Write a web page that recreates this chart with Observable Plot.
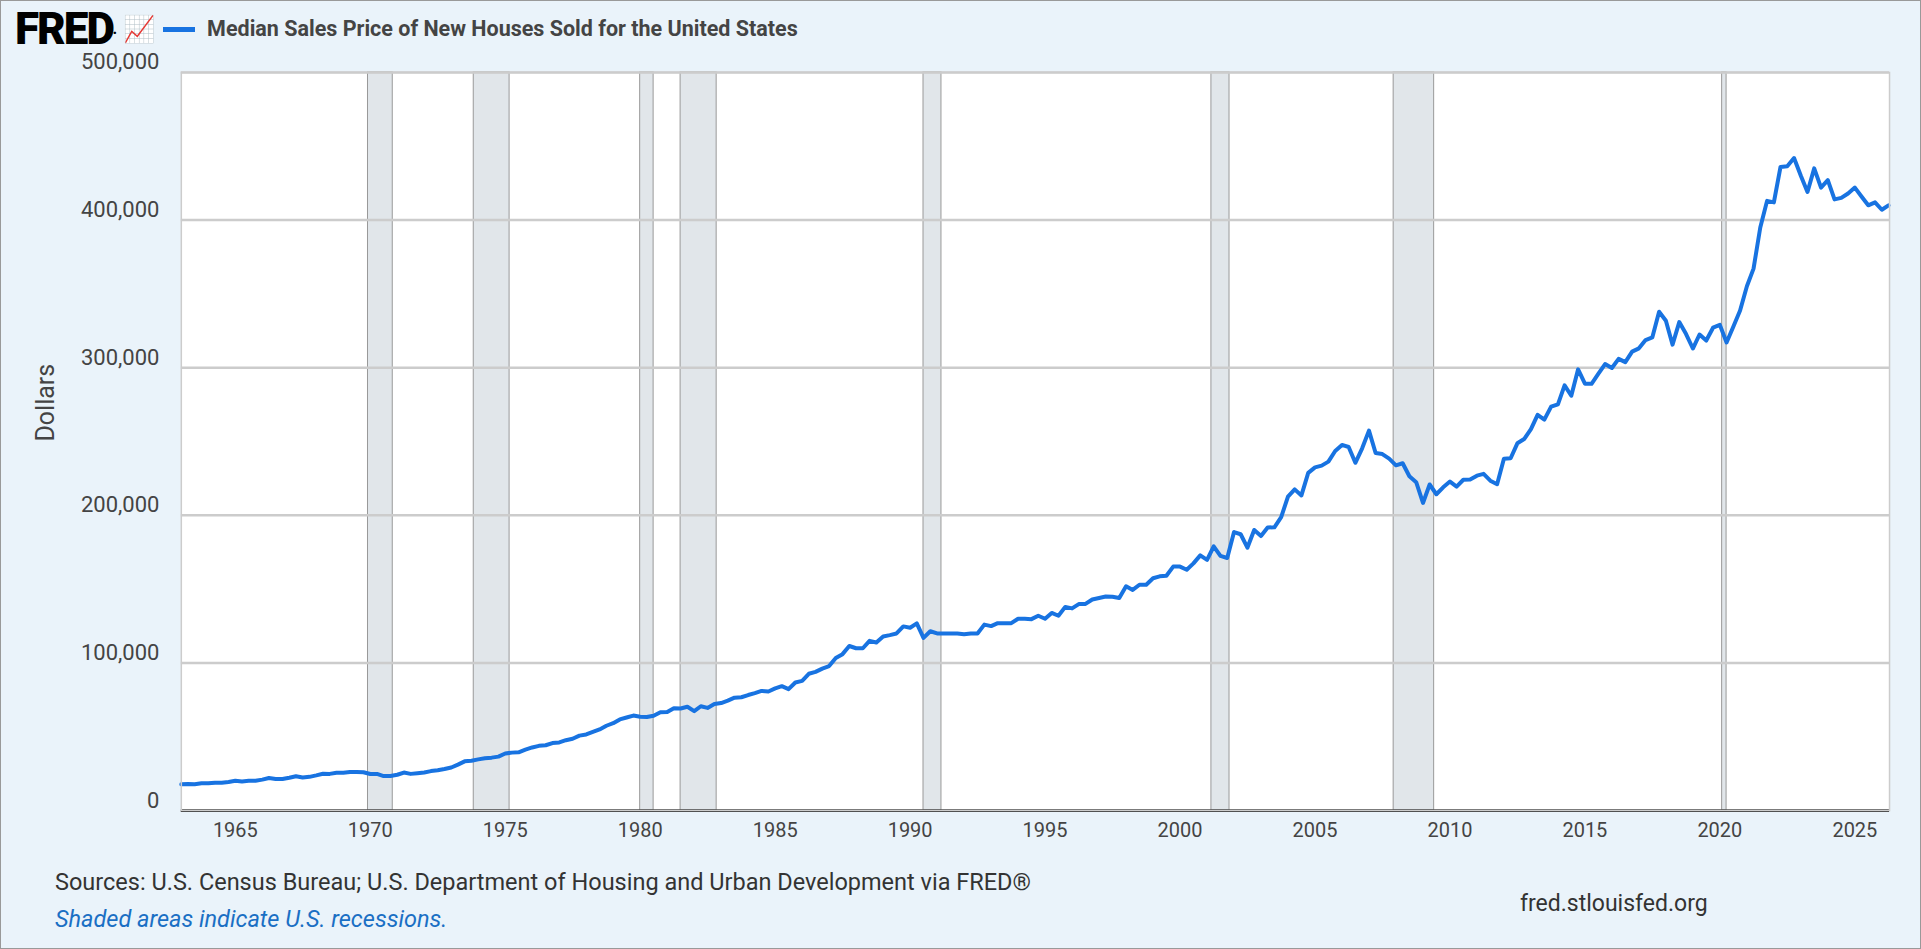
<!DOCTYPE html>
<html><head><meta charset="utf-8">
<script src="https://cdn.jsdelivr.net/npm/d3@7"></script>
<script src="https://cdn.jsdelivr.net/npm/@observablehq/plot@0.6"></script>
<style>
body{margin:0;background:#fff;font-family:Roboto,sans-serif;}
#wrap{position:relative;width:1919px;height:947px;background:#eaf3fa;border:1px solid #999;overflow:hidden}
#head{position:absolute;left:14px;top:8px;height:40px;display:flex;align-items:center;line-height:1}
#logo{font:900 44px Roboto;line-height:40px;letter-spacing:-2px;color:#000;display:flex;align-items:center}
#logo .ic{font-size:26px;line-height:30px;margin-left:8px}
#leg{font:700 21.5px Roboto;line-height:1;color:#444;margin-left:10px;display:flex;align-items:center}
#leg span{display:inline-block;width:32px;height:5px;background:#1873e1;margin-right:12px}
#chart{position:absolute;left:0;top:0}
#src{position:absolute;left:54px;top:867px;font-size:23.5px;color:#333}
#note{position:absolute;left:54px;top:904px;font-size:23.5px;color:#1a6fc4;font-style:italic}
#url{position:absolute;left:1519px;top:889px;font-size:23px;color:#333}
</style></head>
<body><div id="wrap">
<div id="chart"></div>
<div id="head"><div id="logo">FRED<span style="font-size:14px">.</span><span class="ic">📈</span></div>
<div id="leg"><span></span>Median Sales Price of New Houses Sold for the United States</div></div>
<div id="src">Sources: U.S. Census Bureau; U.S. Department of Housing and Urban Development via FRED®</div>
<div id="note">Shaded areas indicate U.S. recessions.</div>
<div id="url">fred.stlouisfed.org</div>
</div>
<script>
const startYear = 1963;
const prices = [
17800,18000,17900,18500, 18500,18900,18900,19400, 20200,19800,20200,20300,
21000,22100,21500,21400, 22300,23300,22500,22900, 23900,25000,24900,25600,
25600,26100,26200,26000, 24800,24900,23400,23500, 24300,25800,24900,25300,
25800,26800,27400,28200, 29200,31200,33400,33800, 34700,35500,35900,36600,
38700,39300,39500,41300, 42800,43900,44300,45800, 46200,47700,48700,50800,
51600,53300,55000,57500, 59200,61800,63100,64400, 63600,63400,64300,66700,
66800,69400,69200,70400, 67400,70700,69600,72200, 72900,74500,76500,76800,
78300,79600,81100,80700, 82800,84300,82300,86800, 87900,92700,94000,96200,
97900,103400,106000,111500, 110000,110000,115000,113900, 118000,118900,120000,124800,
123900,126800,117000,121500, 120000,119900,120000,120000, 119500,120000,120000,126000,
125000,127000,127000,127000, 130000,130000,129700,132000, 130000,133900,132000,138000,
137000,139900,140000,143000, 144000,145000,144900,144000, 152000,149500,153000,153000,
157400,158700,159100,165300, 165300,163200,167500,172900, 169800,179000,172500,171100,
188700,187200,178100,190100, 186000,191800,191900,198800, 212700,217600,213500,228800,
232500,233700,236400,243600, 247700,246300,235600,245400, 257400,242200,241500,238400,
233900,235300,226500,222500, 208400,220900,214300,219000, 222900,219500,224100,224300,
226900,228100,223500,221100, 238400,238700,248800,251700, 258400,268100,264800,273600,
275200,288000,281000,298900, 289200,289100,295800,302500, 299800,306000,303800,310900,
313100,318700,320500,337900, 331800,315600,330900,322800, 313000,322500,318400,327100,
329000,317100,327800,338700, 355200,367100,395000,413000, 412000,436000,436500,442000,
430000,419000,435000,422000, 427000,414000,415000,418000, 422000,416000,410000,412000,
407000,410000
];
const recStart = ["1969-12-01","1973-11-01","1980-01-01","1981-07-01","1990-07-01","2001-03-01","2007-12-01","2020-02-01"];
const recEnd   = ["1970-11-01","1975-03-01","1980-07-01","1982-11-01","1991-03-01","2001-11-01","2009-06-01","2020-04-01"];
const yTicks = [0,100000,200000,300000,400000,500000];

const data = prices.map((v,i)=>({date:new Date(startYear+Math.floor(i/4), (i%4)*3, 1), value:v}));
const rec = recStart.map((s,i)=>({x1:new Date(s), x2:new Date(recEnd[i])}));

const chart = Plot.plot({
  width:1921, height:860,
  marginLeft:180, marginRight:31, marginTop:71, marginBottom:50,
  style:{background:"transparent", fontFamily:"Roboto", fontSize:"20px", color:"#444"},
  x:{type:"utc", domain:[new Date("1963-01-01"), new Date("2026-04-15")], ticks:d3.utcYear.every(5), tickFormat:"%Y", tickSize:0, tickPadding:12, label:null},
  y:{domain:[0,500000], label:null},
  marks:[
    Plot.frame({fill:"white", stroke:null}),
    Plot.rectY(rec,{x1:"x1",x2:"x2",y1:0,y2:500000,fill:"#e1e6ea",stroke:"#999",strokeWidth:1}),
    Plot.gridY(yTicks,{stroke:"#ccc",strokeOpacity:1,strokeWidth:2.5}),
    Plot.axisY({ticks:yTicks, tickFormat:d3.format(","), tickSize:0, tickPadding:22, dy:-10, fontSize:22, label:null}),
    Plot.text(["Dollars"],{frameAnchor:"left", dx:-135, rotate:-90, fontSize:25, fill:"#444"}),
    Plot.ruleY([0],{stroke:"#000",strokeWidth:2.5}),
    Plot.line(data,{x:"date",y:"value",stroke:"#1873e1",strokeWidth:4}),
    Plot.frame({stroke:"#ccc", strokeWidth:1.5, fill:null})
  ]
});
document.getElementById("chart").append(chart);
</script>
</body></html>
